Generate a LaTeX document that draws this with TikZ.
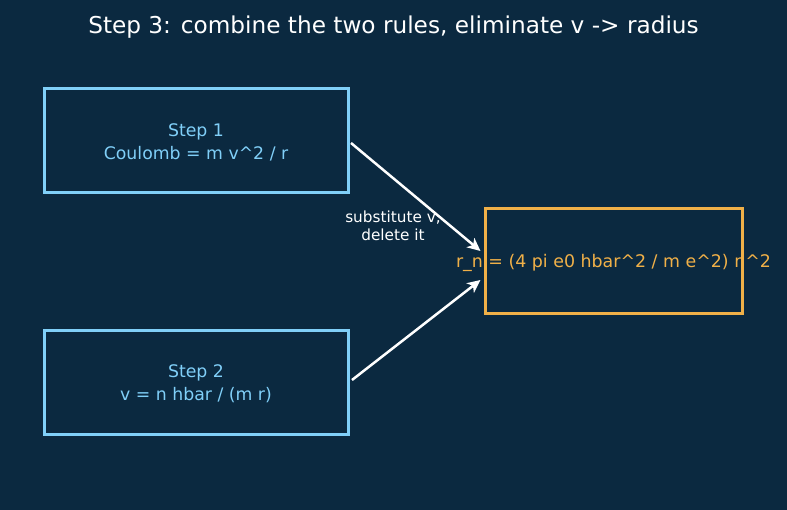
\documentclass[tikz,border=0pt]{standalone}
\usepackage{fontspec}
\setmainfont{DejaVu Sans}
\usetikzlibrary{arrows.meta,calc}
\definecolor{bg}{HTML}{0B2940}
\definecolor{blueln}{HTML}{80CFF8}
\definecolor{orangeln}{HTML}{F0B048}
\begin{document}
\begin{tikzpicture}[x=1pt,y=-1pt,
  box/.style={draw=blueln,line width=3pt,minimum width=304pt,minimum height=104pt,inner sep=0pt,text=blueln,align=center,font=\fontsize{17.3}{23}\selectfont},
  resbox/.style={draw=orangeln,line width=3pt,minimum width=257pt,minimum height=105pt,inner sep=0pt},
  arr/.style={draw=white,line width=2.5pt,-{Stealth[length=13pt,width=12pt,inset=3.5pt]}}]
\fill[bg] (0,0) rectangle (787,510);
\useasboundingbox (0,0) rectangle (787,510);
\node[text=white,font=\fontsize{23.2}{28}\selectfont] (title) at (393.5,27) {Step 3: combine the two rules, eliminate v -> radius};
\node[box] (b1) at (196,141) {};
\node[text=blueln,align=center,font=\fontsize{17.3}{23}\selectfont] (b1t) at ($(b1.center)+(0,1.5)$) {Step 1\\Coulomb = m v\^{}2 / r};
\node[box] (b2) at (196,382.5) {};
\node[text=blueln,align=center,font=\fontsize{17.3}{23}\selectfont] (b2t) at ($(b2.center)+(0,1.5)$) {Step 2\\v = n hbar / (m r)};
\node[resbox] (b3) at (613.5,261.5) {};
\node[text=orangeln,font=\fontsize{17.4}{22}\selectfont] (b3t) at ($(b3.center)+(0,1.5)$) {r\_n = (4 pi e0 hbar\^{}2 / m e\^{}2) n\^{}2};
\coordinate (t1) at ($(b3.west)+(-3,-10.5)$);
\coordinate (t2) at ($(b3.west)+(-3,18.5)$);
\draw[arr] ($(b1.east)+(1.5,2)$) -- (t1);
\draw[arr] ($(b2.east)+(2.5,-2.5)$) -- (t2);
\node[text=white,align=center,font=\fontsize{15.3}{18}\selectfont] (lbl) at (393,226) {substitute v,\\delete it};
\end{tikzpicture}
\end{document}
